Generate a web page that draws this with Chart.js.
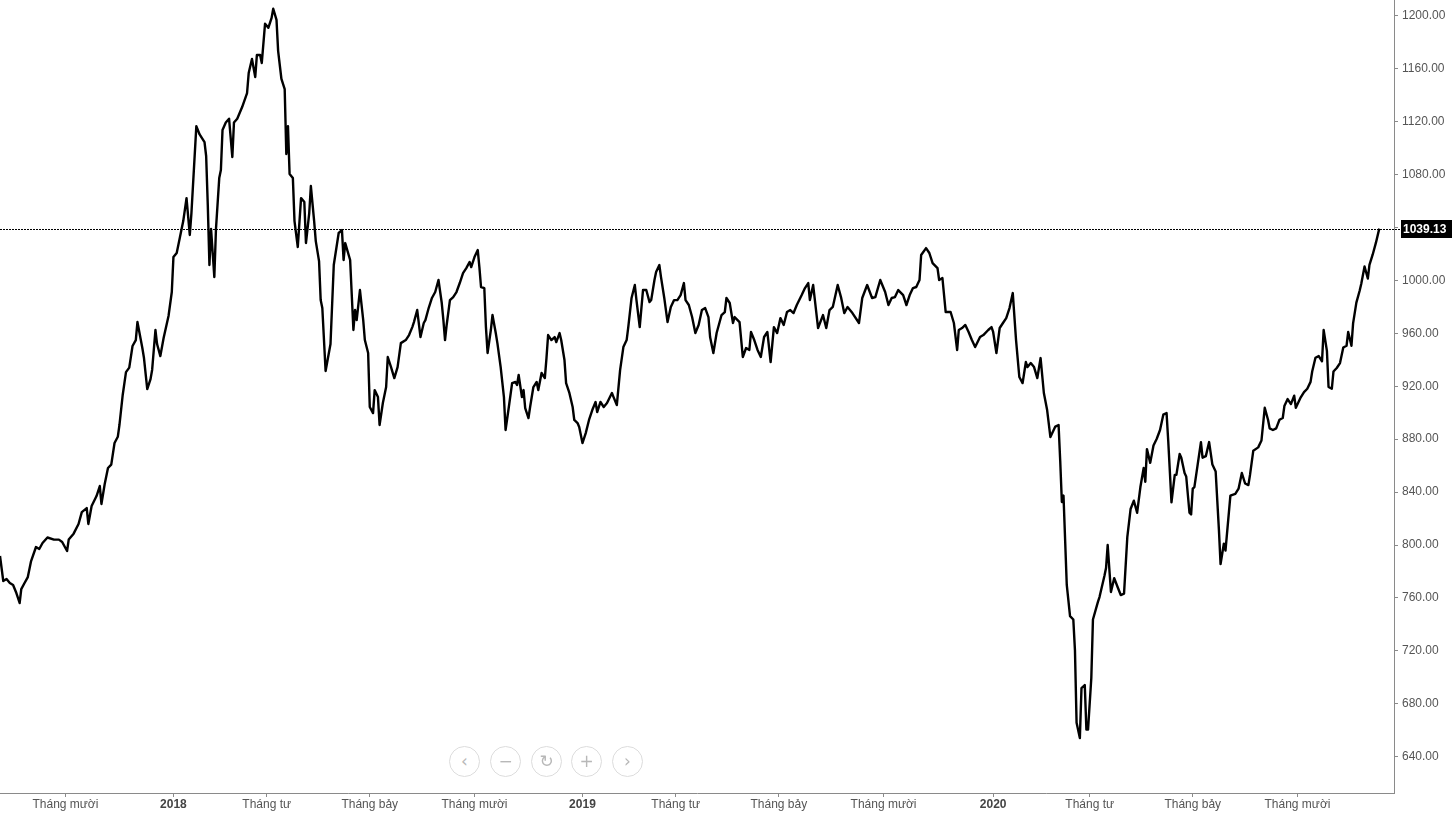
<!DOCTYPE html>
<html>
<head>
<meta charset="utf-8">
<script src="https://cdn.jsdelivr.net/npm/chart.js@4.4.1/dist/chart.umd.min.js"></script>
<style>
  html, body { margin: 0; padding: 0; background: #fff; }
  #wrap { position: relative; width: 1452px; height: 816px; overflow: hidden; }
  #c { position: absolute; left: 0; top: 0; }
  .nav { position: absolute; top: 746px; width: 31px; height: 31px; border: 1px solid #dcdcdc; border-radius: 50%;
         box-sizing: border-box; background: #fff; color: #b8b8b8; font: 17px "DejaVu Sans", sans-serif;
         display: flex; align-items: center; justify-content: center; line-height: 1; }
</style>
</head>
<body>
<div id="wrap">
  <canvas id="c" width="1452" height="816"></canvas>
  <div class="nav" style="left:449px">‹</div>
  <div class="nav" style="left:490px">−</div>
  <div class="nav" style="left:531px">↻</div>
  <div class="nav" style="left:571px">+</div>
  <div class="nav" style="left:612px">›</div>
</div>
<script>
// Trading-session index of each sampled point
const sessions = [0,2,4,6,8,10,12,13,15,17,19,22,24,26,29,33,36,38,41,42,45,48,50,53,54,56,59,61,62,64,66,68,70,72,73,75,77,79,81,83,84,87,88,90,92,93,95,96,98,100,103,105,106,108,110,112,114,116,117,120,122,125,126,127,128,129,131,132,134,135,136,138,140,142,143,145,148,151,152,154,156,157,159,160,162,164,166,167,169,170,172,174,175,176,177,179,180,182,184,186,187,189,190,192,193,195,196,197,199,202,204,207,209,
210,211,214,216,217,218,220,222,223,225,226,228,229,231,232,234,236,237,239,241,243,245,248,250,252,253,255,257,259,260,262,264,266,268,270,271,272,273,275,277,279,281,283,285,287,288,290,292,293,294,296,297,298,300,301,303,304,306,308,309,311,313,315,316,317,319,320,321,323,324,326,328,329,331,333,334,335,337,339,340,342,343,345,346,348,350,351,353,354,356,358,360,362,364,365,367,369,371,374,375,377,379,381,383,384,386,388,389,391,393,395,397,398,400,401,403,404,406,408,410,412,414,416,418,419,421,423,425,427,
429,431,433,434,436,438,441,443,444,446,448,449,452,454,456,458,459,461,463,465,467,469,471,473,475,477,479,481,483,485,487,490,492,494,495,497,500,503,505,507,509,512,514,516,518,521,525,527,530,533,535,538,541,543,545,547,549,552,554,556,558,560,562,563,566,568,570,573,574,576,578,581,583,585,586,588,590,592,594,596,599,601,604,606,607,609,611,613,615,617,619,621,623,625,627,628,630,632,634,636,638,640,642,
645,647,648,649,650,652,654,656,657,658,660,661,663,664,665,667,668,671,672,675,676,677,679,681,683,685,687,689,691,693,695,697,699,700,701,703,705,707,709,711,713,714,716,718,719,721,722,724,725,727,728,729,730,732,734,735,737,739,741,743,745,746,748,749,752,755,757,759,761,763,764,766,769,771,773,775,776,778,780,782,784,785,787,789,791,792,795,797,799,801,802,804,806,808,809,811,812,814,815,817,819,821,823,824,826,827,829,831,832,834,836,837,839,841,843];

// Index closing values
const closes = [791.7,772.8,774.3,771.3,769.8,763.7,756.2,766.7,771.3,775.8,787.9,798.5,797.0,801.5,805.7,804.1,804.1,802.3,795.5,804.1,808.6,815.9,824.9,827.9,815.9,829.5,837.0,844.6,831.0,846.1,858.2,860.8,877.1,881.8,890.7,913.4,930.7,934.1,950.4,954.9,968.5,948.9,941.3,917.9,925.4,932.5,962.5,951.9,942.8,956.4,973.1,991.2,1017.6,1020.7,1032.8,1044.8,1062.2,1034.3,1050.9,1116.6,1110.3,1104.5,1094.0,1056.9,1011.6,1038.8,1002.5,1038.8,1077.3,1083.4,1113.6,1119.3,1122.2,1093.2,1119.3,1122.2,1131.0,1141.6,1156.7,1167.3,1153.7,1170.3,1170.3,1164.3,1194.0,1190.9,1198.4,1205.3,1196.9,1173.3,1152.2,1144.6,1095.5,1116.6,1080.4,1077.3,1044.8,1025.2,1062.2,1059.2,1028.2,1050.9,1071.3,1044.8,1029.7,1014.6,985.1,979.1,931.5,951.9,1011.6,1035.8,1038.0,
1015.4,1028.2,1015.4,962.5,977.6,970.0,992.7,970.0,954.9,945.1,904.3,899.7,917.1,911.8,890.7,907.3,919.4,942.1,934.5,926.2,934.5,952.6,954.9,958.7,964.7,968.5,977.6,957.2,967.8,970.0,979.1,986.7,991.2,1000.3,982.9,970.0,954.9,966.3,985.1,987.4,991.2,998.0,1005.5,1009.3,1013.9,1010.1,1017.6,1022.9,1010.1,995.0,994.2,964.7,945.1,962.5,973.8,960.2,952.6,934.5,911.8,886.9,904.3,922.4,923.2,920.9,928.5,911.8,917.1,903.5,896.0,904.3,919.4,923.2,917.1,930.0,926.2,941.3,958.7,954.9,957.2,953.4,960.2,954.9,939.8,922.4,914.9,904.3,894.5,892.2,889.2,877.1,884.6,894.5,902.0,908.1,900.5,908.1,904.3,907.3,914.9,911.8,905.8,932.2,949.6,954.9,964.7,986.7,996.5,985.1,964.7,992.7,992.7,983.6,985.1,1000.3,1006.3,1011.6,1002.5,986.7,968.5,979.9,985.1,985.1,988.9,998.0,985.1,981.4,972.3,960.2,966.3,
977.6,979.1,972.3,957.2,945.1,960.2,973.8,976.1,986.7,982.9,967.8,972.3,968.5,942.1,948.9,947.4,961.0,954.9,947.4,942.1,957.2,961.0,938.3,964.7,960.2,971.5,966.3,976.1,977.6,975.3,981.4,988.9,994.2,998.0,985.1,996.5,964.0,973.8,964.0,977.6,979.9,996.5,987.4,975.3,979.9,975.3,967.8,986.7,996.5,986.7,987.4,1000.3,991.2,981.4,986.7,987.4,992.7,988.9,981.4,988.9,994.2,995.0,1000.3,1019.2,1024.4,1020.7,1013.1,1009.3,1000.3,1001.8,976.1,976.1,967.8,947.4,962.5,964.0,966.3,961.0,954.9,949.6,957.2,958.7,962.5,964.7,961.0,945.1,964.0,967.8,971.5,979.1,990.4,954.9,927.0,922.4,938.3,934.5,937.5,934.5,926.2,941.3,914.9,902.0,881.6,
889.5,890.7,863.5,832.5,837.4,769.8,746.3,743.7,720.6,665.6,654.1,691.9,694.2,660.5,660.5,699.5,743.7,756.9,760.7,776.6,782.6,800.0,764.5,775.0,768.5,762.2,763.3,806.0,827.2,833.5,824.4,843.8,858.2,847.8,872.5,862.1,875.2,880.3,886.9,898.5,899.7,879.0,832.2,853.0,853.0,868.8,866.0,854.4,851.8,824.4,823.1,842.6,843.8,860.8,877.8,866.0,867.2,877.8,860.8,855.6,811.3,785.6,801.0,795.8,837.4,838.7,842.6,854.4,846.5,845.3,853.0,871.3,873.8,879.0,903.7,894.7,888.2,886.9,888.2,894.7,896.0,905.0,910.3,906.5,912.9,903.7,911.6,915.6,918.1,923.3,931.1,941.5,942.8,938.9,962.5,946.7,919.4,918.1,931.1,933.8,937.5,949.3,950.6,961.0,950.6,967.5,983.2,992.2,997.5,1010.5,1001.4,1011.7,1019.6,1028.7,1039.13];

// Axis ticks
const xTickSessions = [40, 106, 163, 226, 290, 356, 413, 476, 540, 607, 666, 729, 793];
const xTickLabels = ["Tháng mười", "2018", "Tháng tư", "Tháng bảy", "Tháng mười", "2019", "Tháng tư", "Tháng bảy", "Tháng mười", "2020", "Tháng tư", "Tháng bảy", "Tháng mười"];
const yTickValues = [640, 680, 720, 760, 800, 840, 880, 920, 960, 1000, 1040, 1080, 1120, 1160, 1200];
const lastValue = closes[closes.length - 1];

const points = sessions.map((s, i) => ({ x: s, y: closes[i] }));
const FONT = '"Liberation Sans", Arial, sans-serif';

const lastValuePlugin = {
  id: 'lastValue',
  beforeDatasetsDraw(chart) {
    const { ctx, chartArea } = chart;
    const y = Math.round(chart.scales.y.getPixelForValue(lastValue)) + 0.5;
    ctx.save();
    ctx.strokeStyle = '#000';
    ctx.lineWidth = 1;
    ctx.setLineDash([2, 1]);
    ctx.beginPath();
    ctx.moveTo(chartArea.left, y);
    ctx.lineTo(chartArea.right + 7, y);
    ctx.stroke();
    ctx.restore();
  },
  afterDraw(chart) {
    const { ctx, chartArea } = chart;
    const y = Math.round(chart.scales.y.getPixelForValue(lastValue));
    ctx.save();
    ctx.fillStyle = '#000';
    ctx.fillRect(chartArea.right + 7, y - 9, 60, 18);
    ctx.fillStyle = '#fff';
    ctx.font = 'bold 12px ' + FONT;
    ctx.textBaseline = 'middle';
    ctx.textAlign = 'left';
    ctx.fillText(lastValue.toFixed(2), chartArea.right + 9, y + 1);
    ctx.restore();
  }
};

new Chart(document.getElementById('c'), {
  type: 'line',
  data: {
    datasets: [{
      data: points,
      borderColor: '#000',
      borderWidth: 2.4,
      pointRadius: 0,
      tension: 0,
      fill: false,
      borderJoinStyle: 'round'
    }]
  },
  options: {
    responsive: false,
    animation: false,
    layout: { padding: 0 },
    plugins: { legend: { display: false }, tooltip: { enabled: false } },
    scales: {
      x: {
        type: 'linear',
        min: 0,
        max: 852,
        grid: { drawOnChartArea: false, drawTicks: true, tickLength: 4, color: '#8a8a8a' },
        border: { display: true, color: '#8a8a8a', width: 1 },
        afterBuildTicks: (axis) => { axis.ticks = xTickSessions.map(v => ({ value: v })); },
        afterFit: (axis) => { axis.height = 23; axis.paddingLeft = 0; axis.paddingRight = 0; },
        ticks: {
          autoSkip: false,
          maxRotation: 0,
          padding: 0,
          color: (c) => /^\d{4}$/.test(xTickLabels[c.index] || '') ? '#444' : '#555',
          font: (c) => ({ family: FONT, size: 12, weight: /^\d{4}$/.test(xTickLabels[c.index] || '') ? 'bold' : 'normal' }),
          callback: (v, i) => xTickLabels[i]
        }
      },
      y: {
        position: 'right',
        min: 612.6,
        max: 1211.9,
        grid: { drawOnChartArea: false, drawTicks: true, tickLength: 4, color: '#8a8a8a' },
        border: { display: true, color: '#8a8a8a', width: 1 },
        afterBuildTicks: (axis) => { axis.ticks = yTickValues.map(v => ({ value: v })); },
        afterFit: (axis) => { axis.width = 58; axis.paddingTop = 0; axis.paddingBottom = 0; },
        ticks: {
          padding: 4,
          color: '#555',
          font: { family: FONT, size: 12 },
          callback: (v) => Number(v).toFixed(2)
        }
      }
    }
  },
  plugins: [lastValuePlugin]
});
</script>
</body>
</html>
